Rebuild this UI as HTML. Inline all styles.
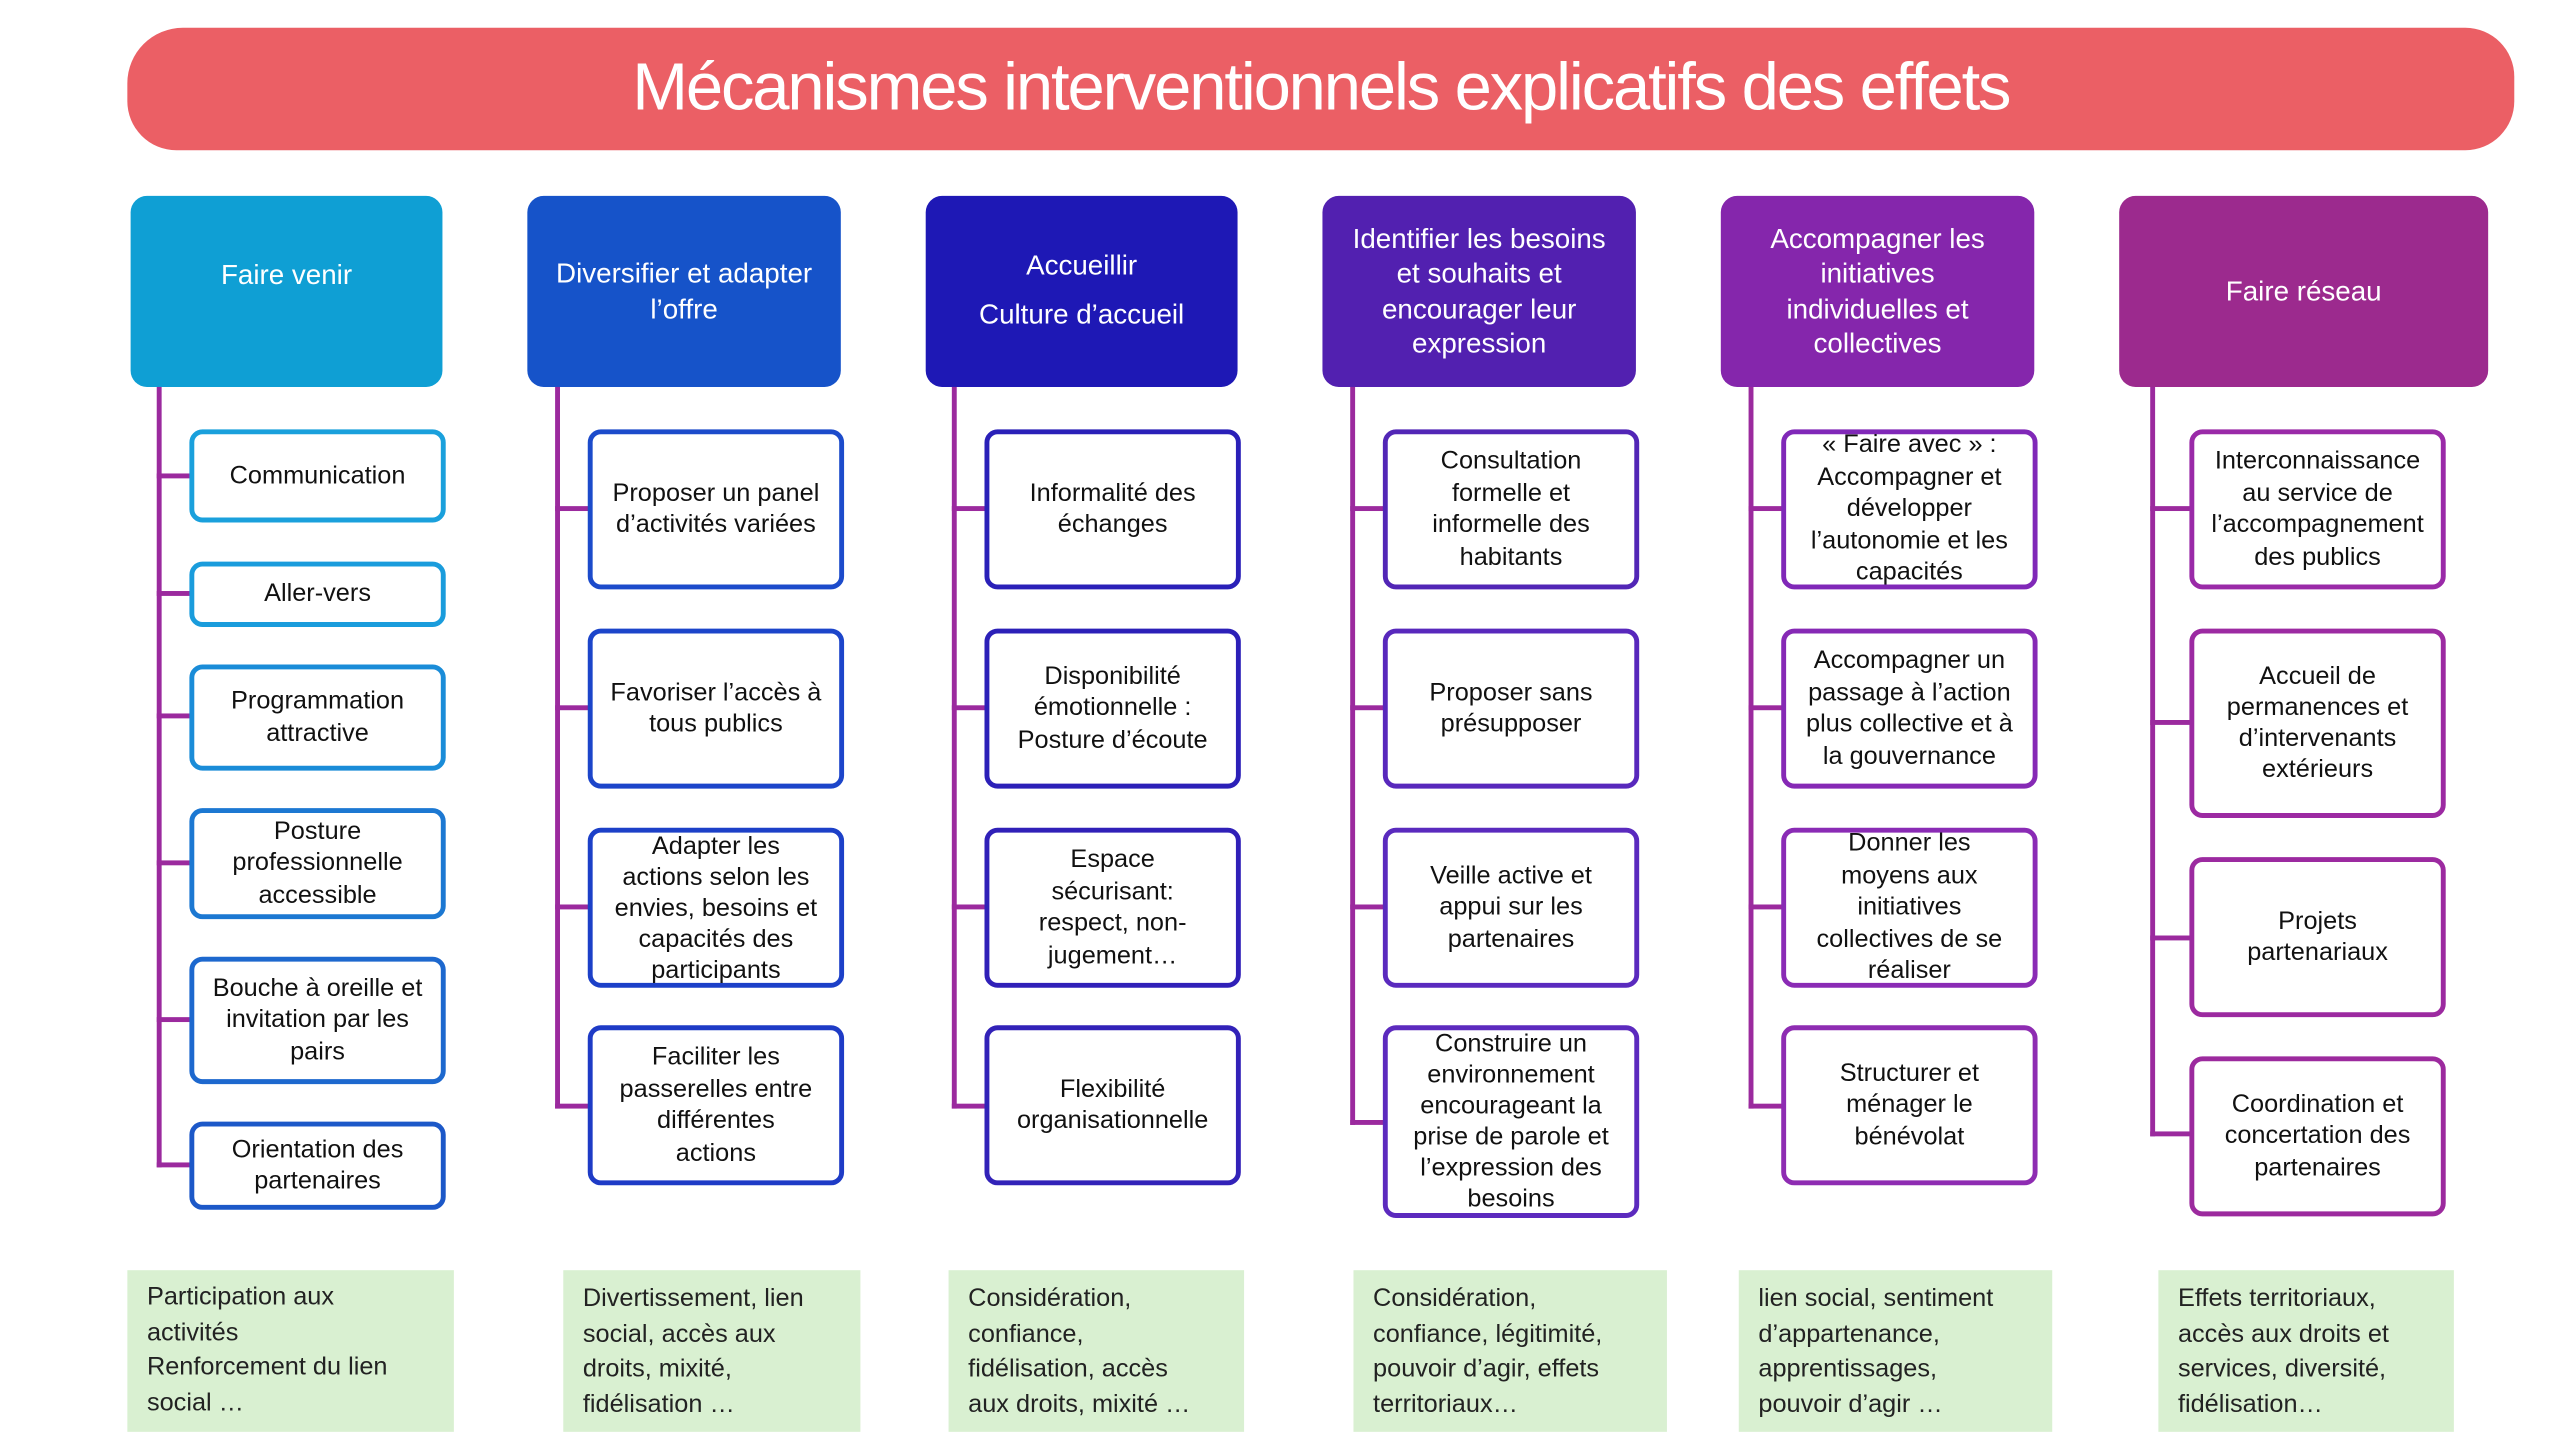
<!DOCTYPE html>
<html><head><meta charset="utf-8">
<style>
html,body{margin:0;padding:0;background:#fff;}
body{width:2560px;height:1440px;overflow:hidden;position:relative;}
#w{position:absolute;left:0;top:0;width:1568px;height:882px;transform:scale(1.632653);transform-origin:0 0;font-family:"Liberation Sans",sans-serif;}
.a{position:absolute;box-sizing:border-box;}
.ban{left:78px;top:17px;width:1462px;height:75px;background:#EB5F65;border-radius:34px 30px 30px 30px;color:#fff;font-size:41px;text-align:center;line-height:72px;letter-spacing:-1.3px;}
.h{top:120px;height:117px;border-radius:10px;color:#fff;font-size:17px;line-height:21.5px;display:flex;align-items:center;justify-content:center;text-align:center;padding:0 6px;}
.b{background:#fff;border:3px solid;border-radius:8px;display:flex;align-items:center;justify-content:center;text-align:center;font-size:15.5px;line-height:19.5px;color:#111;padding:0 3px;overflow:visible;white-space:nowrap;}
.v{width:3px;background:#9B2A9E;}
.t{height:3px;background:#9B2A9E;}
.g{top:778px;height:99px;background:#D9F0D1;font-size:15.5px;line-height:21.5px;color:#222;padding:7px 0 0 12px;white-space:nowrap;}
</style></head><body><div id="w">
<div class="a ban">Mécanismes interventionnels explicatifs des effets</div>

<div class="a h" style="left:80px;width:191px;background:#0F9FD4;padding-bottom:20px">Faire venir</div>
<div class="a h" style="left:323px;width:192px;background:#1653C9;padding-bottom:0">Diversifier et adapter<br>l’offre</div>
<div class="a h" style="left:567px;width:191px;background:#1E18B5;line-height:30px;padding-bottom:2px;padding-top:0">Accueillir<br>Culture d’accueil</div>
<div class="a h" style="left:810px;width:192px;background:#5220B0">Identifier les besoins<br>et souhaits et<br>encourager leur<br>expression</div>
<div class="a h" style="left:1054px;width:192px;background:#8526AC">Accompagner les<br>initiatives<br>individuelles et<br>collectives</div>
<div class="a h" style="left:1298px;width:226px;background:#9C2A8E">Faire réseau</div>

<!-- connectors -->
<div class="a v" style="left:96px;top:237px;height:478px"></div>
<div class="a t" style="left:96px;top:290px;width:22px"></div>
<div class="a t" style="left:96px;top:362px;width:22px"></div>
<div class="a t" style="left:96px;top:437px;width:22px"></div>
<div class="a t" style="left:96px;top:527px;width:22px"></div>
<div class="a t" style="left:96px;top:623px;width:22px"></div>
<div class="a t" style="left:96px;top:712px;width:22px"></div>

<div class="a v" style="left:340px;top:237px;height:442px"></div>
<div class="a t" style="left:340px;top:310px;width:22px"></div>
<div class="a t" style="left:340px;top:432px;width:22px"></div>
<div class="a t" style="left:340px;top:554px;width:22px"></div>
<div class="a t" style="left:340px;top:676px;width:22px"></div>

<div class="a v" style="left:583px;top:237px;height:442px"></div>
<div class="a t" style="left:583px;top:310px;width:22px"></div>
<div class="a t" style="left:583px;top:432px;width:22px"></div>
<div class="a t" style="left:583px;top:554px;width:22px"></div>
<div class="a t" style="left:583px;top:676px;width:22px"></div>

<div class="a v" style="left:827px;top:237px;height:452px"></div>
<div class="a t" style="left:827px;top:310px;width:22px"></div>
<div class="a t" style="left:827px;top:432px;width:22px"></div>
<div class="a t" style="left:827px;top:554px;width:22px"></div>
<div class="a t" style="left:827px;top:686px;width:22px"></div>

<div class="a v" style="left:1071px;top:237px;height:442px"></div>
<div class="a t" style="left:1071px;top:310px;width:22px"></div>
<div class="a t" style="left:1071px;top:432px;width:22px"></div>
<div class="a t" style="left:1071px;top:554px;width:22px"></div>
<div class="a t" style="left:1071px;top:676px;width:22px"></div>

<div class="a v" style="left:1317px;top:237px;height:459px"></div>
<div class="a t" style="left:1317px;top:310px;width:26px"></div>
<div class="a t" style="left:1317px;top:441px;width:26px"></div>
<div class="a t" style="left:1317px;top:573px;width:26px"></div>
<div class="a t" style="left:1317px;top:693px;width:26px"></div>

<!-- col1 -->
<div class="a b" style="left:116px;top:263px;width:157px;height:57px;border-color:#1AA0DC">Communication</div>
<div class="a b" style="left:116px;top:344px;width:157px;height:40px;border-color:#1A9CDC">Aller-vers</div>
<div class="a b" style="left:116px;top:407px;width:157px;height:65px;border-color:#1A8CD8">Programmation<br>attractive</div>
<div class="a b" style="left:116px;top:495px;width:157px;height:68px;border-color:#1C78D2">Posture<br>professionnelle<br>accessible</div>
<div class="a b" style="left:116px;top:586px;width:157px;height:78px;border-color:#1D68CE">Bouche à oreille et<br>invitation par les<br>pairs</div>
<div class="a b" style="left:116px;top:687px;width:157px;height:54px;border-color:#1C58C8">Orientation des<br>partenaires</div>

<!-- col2 -->
<div class="a b" style="left:360px;top:263px;width:157px;height:98px;border-color:#1C4BCB">Proposer un panel<br>d’activités variées</div>
<div class="a b" style="left:360px;top:385px;width:157px;height:98px;border-color:#1C45CA">Favoriser l’accès à<br>tous publics</div>
<div class="a b" style="left:360px;top:507px;width:157px;height:98px;border-color:#1C40C8;line-height:19px">Adapter les<br>actions selon les<br>envies, besoins et<br>capacités des<br>participants</div>
<div class="a b" style="left:360px;top:628px;width:157px;height:98px;border-color:#1E3BC6">Faciliter les<br>passerelles entre<br>différentes<br>actions</div>

<!-- col3 -->
<div class="a b" style="left:603px;top:263px;width:157px;height:98px;border-color:#2A20B8">Informalité des<br>échanges</div>
<div class="a b" style="left:603px;top:385px;width:157px;height:98px;border-color:#2C20B8">Disponibilité<br>émotionnelle :<br>Posture d’écoute</div>
<div class="a b" style="left:603px;top:507px;width:157px;height:98px;border-color:#3020B8">Espace<br>sécurisant:<br>respect, non-<br>jugement…</div>
<div class="a b" style="left:603px;top:628px;width:157px;height:98px;border-color:#3222B8">Flexibilité<br>organisationnelle</div>

<!-- col4 -->
<div class="a b" style="left:847px;top:263px;width:157px;height:98px;border-color:#5226B6">Consultation<br>formelle et<br>informelle des<br>habitants</div>
<div class="a b" style="left:847px;top:385px;width:157px;height:98px;border-color:#5828BC">Proposer sans<br>présupposer</div>
<div class="a b" style="left:847px;top:507px;width:157px;height:98px;border-color:#5A2ABE">Veille active et<br>appui sur les<br>partenaires</div>
<div class="a b" style="left:847px;top:628px;width:157px;height:118px;border-color:#5C2ABE;line-height:19px">Construire un<br>environnement<br>encourageant la<br>prise de parole et<br>l’expression des<br>besoins</div>

<!-- col5 -->
<div class="a b" style="left:1091px;top:263px;width:157px;height:98px;border-color:#8028B8">« Faire avec » :<br>Accompagner et<br>développer<br>l’autonomie et les<br>capacités</div>
<div class="a b" style="left:1091px;top:385px;width:157px;height:98px;border-color:#8629B5">Accompagner un<br>passage à l’action<br>plus collective et à<br>la gouvernance</div>
<div class="a b" style="left:1091px;top:507px;width:157px;height:98px;border-color:#8A2BB5">Donner les<br>moyens aux<br>initiatives<br>collectives de se<br>réaliser</div>
<div class="a b" style="left:1091px;top:628px;width:157px;height:98px;border-color:#8E2CB2">Structurer et<br>ménager le<br>bénévolat</div>

<!-- col6 -->
<div class="a b" style="left:1341px;top:263px;width:157px;height:98px;border-color:#9A2AA8">Interconnaissance<br>au service de<br>l’accompagnement<br>des publics</div>
<div class="a b" style="left:1341px;top:385px;width:157px;height:116px;border-color:#9C2AA2;line-height:19px">Accueil de<br>permanences et<br>d’intervenants<br>extérieurs</div>
<div class="a b" style="left:1341px;top:525px;width:157px;height:98px;border-color:#9C2AA0">Projets<br>partenariaux</div>
<div class="a b" style="left:1341px;top:647px;width:157px;height:98px;border-color:#9C2A9E">Coordination et<br>concertation des<br>partenaires</div>

<!-- bottom -->
<div class="a g" style="left:78px;width:200px;padding-top:6px">Participation aux<br>activités<br>Renforcement du lien<br>social …</div>
<div class="a g" style="left:345px;width:182px">Divertissement, lien<br>social, accès aux<br>droits, mixité,<br>fidélisation …</div>
<div class="a g" style="left:581px;width:181px">Considération,<br>confiance,<br>fidélisation, accès<br>aux droits, mixité …</div>
<div class="a g" style="left:829px;width:192px">Considération,<br>confiance, légitimité,<br>pouvoir d’agir, effets<br>territoriaux…</div>
<div class="a g" style="left:1065px;width:192px">lien social, sentiment<br>d’appartenance,<br>apprentissages,<br>pouvoir d’agir …</div>
<div class="a g" style="left:1322px;width:181px">Effets territoriaux,<br>accès aux droits et<br>services, diversité,<br>fidélisation…</div>
</div></body></html>
